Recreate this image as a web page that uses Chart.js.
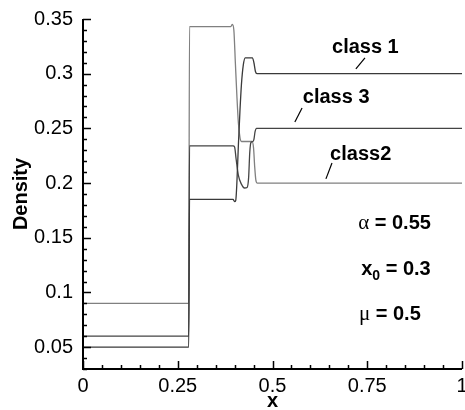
<!DOCTYPE html>
<html>
<head>
  <meta charset="utf-8"/>
  <script src="https://cdn.jsdelivr.net/npm/chart.js@4.4.0/dist/chart.umd.min.js"></script>
  <style>
    body { margin: 0; background: #ffffff; }
    canvas { display: block; }
  </style>
</head>
<body>
  <canvas id="chart" width="465" height="410"></canvas>
  <script>
    // density profiles
    var class1X = [0, 0.279, 0.281, 0.396, 0.400, 0.403, 0.406, 0.410, 0.414, 0.418, 0.423, 0.428, 0.447, 0.451, 0.455, 0.459, 1];
    var class1Y = [0.05, 0.05, 0.185, 0.185, 0.183, 0.184, 0.20, 0.235, 0.265, 0.29, 0.308, 0.3145, 0.3145, 0.31, 0.302, 0.300, 0.300];

    var class3X = [0, 0.279, 0.281, 0.396, 0.400, 0.404, 0.410, 0.418, 0.426, 0.433, 0.437, 0.440, 0.443, 0.448, 0.451, 0.454, 0.458, 1];
    var class3Y = [0.06, 0.06, 0.234, 0.234, 0.233, 0.222, 0.207, 0.199, 0.1955, 0.196, 0.205, 0.228, 0.237, 0.238, 0.240, 0.247, 0.250, 0.250];

    var class2X = [0, 0.279, 0.281, 0.390, 0.394, 0.398, 0.402, 0.406, 0.410, 0.414, 0.418, 0.446, 0.450, 0.453, 0.456, 0.460, 1];
    var class2Y = [0.09, 0.09, 0.343, 0.343, 0.345, 0.340, 0.31, 0.28, 0.255, 0.242, 0.238, 0.238, 0.232, 0.215, 0.203, 0.200, 0.200];

    var xTickValues = [0, 0.25, 0.5, 0.75, 1];
    var xTickLabels = ['0', '0.25', '0.5', '0.75', '1'];
    var yTickValues = [0.05, 0.1, 0.15, 0.2, 0.25, 0.3, 0.35];
    var yTickLabels = ['0.05', '0.1', '0.15', '0.2', '0.25', '0.3', '0.35'];

    var FONT = "'Liberation Sans', Arial, Helvetica, sans-serif";
    var SERIF = "'Liberation Serif', 'DejaVu Serif', serif";

    function pairs(xs, ys) {
      var out = [];
      for (var i = 0; i < xs.length; i++) out.push({ x: xs[i], y: ys[i] });
      return out;
    }

    // labels with their leader lines, in data units
    var notes = [
      { text: 'class 1', x: 0.657, y: 0.3244, from: [0.744, 0.3144], to: [0.720, 0.3043] },
      { text: 'class 3', x: 0.580, y: 0.2778, from: [0.578, 0.2687], to: [0.559, 0.2559] },
      { text: 'class2',  x: 0.652, y: 0.2257, from: [0.657, 0.2184], to: [0.641, 0.2038] }
    ];
    var params = [
      { sym: '\u03b1', sub: '', rest: ' = 0.55', x: 0.726, y: 0.1635 },
      { sym: 'x', sub: '0', rest: ' = 0.3', x: 0.734, y: 0.1206, bold: true },
      { sym: '\u03bc', sub: '', rest: ' = 0.5', x: 0.728, y: 0.0794 }
    ];

    var frame = {
      id: 'frame',
      afterDraw: function(chart) {
        var ctx = chart.ctx, xs = chart.scales.x, ys = chart.scales.y;
        var a = chart.chartArea;
        ctx.save();
        ctx.strokeStyle = '#000';
        ctx.fillStyle = '#000';

        // axis lines
        ctx.lineWidth = 2;
        ctx.beginPath();
        ctx.moveTo(a.left, a.top);
        ctx.lineTo(a.left, a.bottom);
        ctx.lineTo(a.right, a.bottom);
        ctx.stroke();

        // inward ticks
        ctx.lineWidth = 1.5;
        ctx.beginPath();
        for (var i = 0; i <= 20; i++) {
          var px = Math.round(xs.getPixelForValue(i * 0.05)) + 0.5;
          var len = (i % 5 === 0) ? 8 : 4;
          ctx.moveTo(px, a.bottom);
          ctx.lineTo(px, a.bottom - len);
        }
        for (var j = 3; j <= 35; j++) {
          var py = Math.round(ys.getPixelForValue(j * 0.01)) + 0.5;
          var ylen = (j % 5 === 0) ? 8 : 4;
          ctx.moveTo(a.left, py);
          ctx.lineTo(a.left + ylen, py);
        }
        ctx.stroke();

        // axis titles
        ctx.font = 'bold 20px ' + FONT;
        ctx.textAlign = 'center';
        ctx.textBaseline = 'alphabetic';
        ctx.fillText('x', (a.left + a.right) / 2, 407);
        ctx.save();
        ctx.translate(27, (a.top + a.bottom) / 2);
        ctx.rotate(-Math.PI / 2);
        ctx.fillText('Density', 0, 0);
        ctx.restore();

        // curve labels
        ctx.textAlign = 'left';
        ctx.textBaseline = 'middle';
        ctx.lineWidth = 1.2;
        notes.forEach(function(n) {
          ctx.font = 'bold 20px ' + FONT;
          ctx.fillText(n.text, xs.getPixelForValue(n.x), ys.getPixelForValue(n.y));
          ctx.beginPath();
          ctx.moveTo(xs.getPixelForValue(n.from[0]), ys.getPixelForValue(n.from[1]));
          ctx.lineTo(xs.getPixelForValue(n.to[0]), ys.getPixelForValue(n.to[1]));
          ctx.stroke();
        });

        // parameters
        params.forEach(function(p) {
          var x = xs.getPixelForValue(p.x), y = ys.getPixelForValue(p.y);
          ctx.font = p.bold ? 'bold 20px ' + FONT : '21px ' + SERIF;
          ctx.fillText(p.sym, x, y);
          x += ctx.measureText(p.sym).width;
          if (p.sub) {
            ctx.font = 'bold 14px ' + FONT;
            ctx.fillText(p.sub, x, y + 6);
            x += ctx.measureText(p.sub).width;
          }
          ctx.font = 'bold 20px ' + FONT;
          ctx.fillText(p.rest, x, y);
        });
        ctx.restore();
      }
    };

    function lineSet(label, xs, ys, colour) {
      return {
        label: label,
        data: pairs(xs, ys),
        borderColor: colour,
        borderWidth: 1.3,
        pointRadius: 0,
        fill: false,
        cubicInterpolationMode: 'monotone'
      };
    }

    new Chart(document.getElementById('chart'), {
      type: 'line',
      data: {
        datasets: [
          lineSet('class 1', class1X, class1Y, '#3a3a3a'),
          lineSet('class 3', class3X, class3Y, '#444444'),
          lineSet('class2', class2X, class2Y, '#808080')
        ]
      },
      options: {
        responsive: false,
        animation: false,
        layout: { padding: { top: 19, right: 3, left: 0, bottom: 0 } },
        plugins: { legend: { display: false }, tooltip: { enabled: false } },
        scales: {
          x: {
            type: 'linear', min: 0, max: 1,
            grid: { display: false, drawTicks: false },
            border: { display: false },
            afterBuildTicks: function(s) { s.ticks = xTickValues.map(function(v) { return { value: v }; }); },
            afterFit: function(s) { s.height = 41; s.paddingLeft = 0; s.paddingRight = 0; },
            ticks: {
              padding: 5, maxRotation: 0, autoSkip: false, color: '#000',
              font: { family: FONT, size: 20 },
              callback: function(v) { return xTickLabels[xTickValues.indexOf(v)]; }
            }
          },
          y: {
            type: 'linear', min: 0.03, max: 0.35,
            grid: { display: false, drawTicks: false },
            border: { display: false },
            afterBuildTicks: function(s) { s.ticks = yTickValues.map(function(v) { return { value: v }; }); },
            afterFit: function(s) { s.width = 83; s.paddingTop = 0; s.paddingBottom = 0; },
            ticks: {
              padding: 10, autoSkip: false, color: '#000',
              font: { family: FONT, size: 20 },
              callback: function(v) { return yTickLabels[yTickValues.indexOf(v)]; }
            }
          }
        }
      },
      plugins: [frame]
    });
  </script>
</body>
</html>
